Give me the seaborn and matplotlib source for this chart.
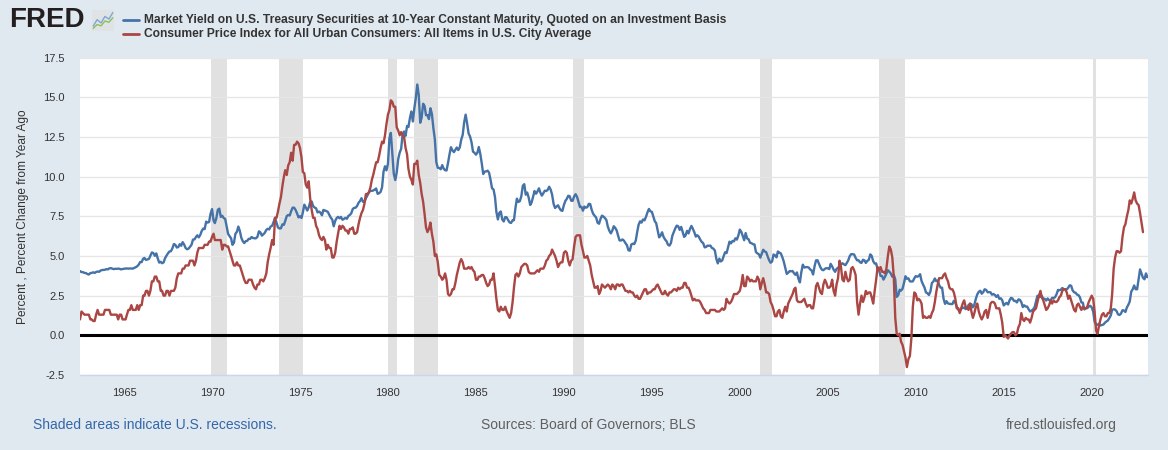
import numpy as np
import pandas as pd
import matplotlib
matplotlib.use("Agg")
import matplotlib.pyplot as plt
import seaborn as sns

# ---------------- data (monthly) ----------------
start_gs10 = "1962-07-01"
gs10 = [
    # 1962 Jul-Dec
    4.05, 3.98, 3.98, 3.93, 3.92, 3.86,
    3.83, 3.92, 3.93, 3.97, 3.93, 3.99, 4.02, 4.00, 4.08, 4.11, 4.12, 4.13,
    4.17, 4.15, 4.22, 4.23, 4.20, 4.17, 4.19, 4.19, 4.20, 4.19, 4.15, 4.18,
    4.19, 4.21, 4.21, 4.20, 4.21, 4.21, 4.20, 4.25, 4.29, 4.35, 4.45, 4.62,
    4.61, 4.83, 4.87, 4.75, 4.78, 4.81, 5.02, 5.22, 5.18, 5.01, 5.16, 4.84,
    4.58, 4.63, 4.54, 4.59, 4.85, 5.02, 5.16, 5.28, 5.30, 5.48, 5.75, 5.70,
    5.53, 5.56, 5.74, 5.64, 5.87, 5.72, 5.50, 5.42, 5.46, 5.58, 5.70, 6.03,
    6.04, 6.19, 6.30, 6.17, 6.32, 6.57, 6.72, 6.69, 7.16, 7.10, 7.14, 7.65,
    7.95, 7.24, 7.07, 7.39, 7.91, 7.98, 7.46, 7.53, 7.39, 7.33, 6.84, 6.39,
    6.24, 6.11, 5.70, 5.83, 6.39, 6.52, 6.85, 6.58, 6.14, 5.93, 5.81, 5.93,
    5.95, 6.08, 6.07, 6.19, 6.13, 6.11, 6.11, 6.21, 6.55, 6.48, 6.28, 6.36,
    6.46, 6.64, 6.71, 6.67, 6.85, 6.90, 7.13, 7.40, 7.09, 6.79, 6.73, 6.74,
    6.99, 6.96, 7.21, 7.51, 7.58, 7.54, 7.81, 8.04, 8.04, 7.90, 7.68, 7.43,
    7.50, 7.39, 7.73, 8.23, 8.06, 7.86, 8.06, 8.40, 8.43, 8.14, 8.05, 8.00,
    7.74, 7.79, 7.73, 7.56, 7.90, 7.86, 7.83, 7.77, 7.59, 7.41, 7.29, 6.87,
    7.21, 7.39, 7.46, 7.37, 7.46, 7.28, 7.33, 7.40, 7.34, 7.52, 7.58, 7.69,
    7.96, 8.03, 8.04, 8.15, 8.35, 8.46, 8.64, 8.41, 8.42, 8.64, 8.81, 9.01,
    9.10, 9.10, 9.12, 9.18, 9.25, 8.91, 8.95, 9.03, 9.33, 10.30, 10.65, 10.39,
    10.80, 12.41, 12.75, 11.47, 10.18, 9.78, 10.25, 11.10, 11.51, 11.75, 12.68, 12.84,
    12.57, 13.19, 13.12, 13.68, 14.10, 13.47, 14.28, 14.94, 15.80, 15.15, 13.39, 13.72,
    14.59, 14.43, 13.86, 13.87, 13.62, 14.30, 13.95, 13.06, 12.34, 10.91, 10.55, 10.54,
    10.46, 10.72, 10.51, 10.40, 10.38, 10.85, 11.38, 11.85, 11.65, 11.54, 11.69, 11.83,
    11.67, 11.84, 12.32, 12.63, 13.41, 13.90, 13.36, 12.72, 12.52, 12.16, 11.57, 11.50,
    11.38, 11.51, 11.86, 11.43, 10.85, 10.16, 10.31, 10.33, 10.37, 10.24, 9.78, 9.26,
    9.19, 8.70, 7.78, 7.30, 7.71, 7.80, 7.30, 7.17, 7.45, 7.43, 7.25, 7.11,
    7.08, 7.25, 7.25, 8.02, 8.61, 8.40, 8.45, 8.76, 9.42, 9.52, 8.86, 8.99,
    8.67, 8.21, 8.37, 8.72, 9.09, 8.92, 9.06, 9.26, 8.98, 8.80, 8.96, 9.11,
    9.09, 9.17, 9.36, 9.18, 8.86, 8.28, 8.02, 8.11, 8.19, 8.01, 7.87, 7.84,
    8.21, 8.47, 8.59, 8.79, 8.76, 8.48, 8.47, 8.75, 8.89, 8.72, 8.39, 8.08,
    8.09, 7.85, 8.11, 8.04, 8.07, 8.28, 8.27, 7.90, 7.65, 7.53, 7.42, 7.09,
    7.03, 7.34, 7.54, 7.48, 7.39, 7.26, 6.84, 6.59, 6.42, 6.59, 6.87, 6.77,
    6.60, 6.26, 5.98, 5.97, 6.04, 5.96, 5.81, 5.68, 5.36, 5.33, 5.72, 5.77,
    5.75, 5.97, 6.48, 6.97, 7.18, 7.10, 7.30, 7.24, 7.46, 7.74, 7.96, 7.81,
    7.78, 7.47, 7.20, 7.06, 6.63, 6.17, 6.28, 6.49, 6.20, 6.04, 5.93, 5.71,
    5.65, 5.81, 6.27, 6.51, 6.74, 6.91, 6.87, 6.64, 6.83, 6.53, 6.20, 6.30,
    6.58, 6.42, 6.69, 6.89, 6.71, 6.49, 6.22, 6.30, 6.21, 6.03, 5.88, 5.81,
    5.54, 5.57, 5.65, 5.64, 5.65, 5.50, 5.46, 5.34, 4.81, 4.53, 4.83, 4.65,
    4.72, 5.00, 5.23, 5.18, 5.54, 5.90, 5.79, 5.94, 5.92, 6.11, 6.03, 6.28,
    6.66, 6.52, 6.26, 5.99, 6.44, 6.10, 6.05, 5.83, 5.80, 5.74, 5.72, 5.24,
    5.16, 5.10, 4.89, 5.14, 5.39, 5.28, 5.24, 4.97, 4.73, 4.57, 4.65, 5.09,
    5.04, 4.91, 5.28, 5.21, 5.16, 4.93, 4.65, 4.26, 3.87, 3.94, 4.05, 4.03,
    4.05, 3.90, 3.81, 3.96, 3.57, 3.33, 3.98, 4.45, 4.27, 4.29, 4.30, 4.27,
    4.15, 4.08, 3.83, 4.35, 4.72, 4.73, 4.50, 4.28, 4.13, 4.10, 4.19, 4.23,
    4.22, 4.17, 4.50, 4.34, 4.14, 4.00, 4.18, 4.26, 4.20, 4.46, 4.54, 4.47,
    4.42, 4.57, 4.72, 4.99, 5.11, 5.11, 5.09, 4.88, 4.72, 4.73, 4.60, 4.56,
    4.76, 4.72, 4.56, 4.69, 4.75, 5.10, 5.00, 4.67, 4.52, 4.53, 4.15, 4.10,
    3.74, 3.74, 3.51, 3.68, 3.88, 4.10, 4.01, 3.89, 3.69, 3.81, 3.53, 2.42,
    2.52, 2.87, 2.82, 2.93, 3.29, 3.72, 3.56, 3.59, 3.40, 3.39, 3.40, 3.59,
    3.73, 3.69, 3.73, 3.85, 3.42, 3.20, 3.01, 2.70, 2.65, 2.54, 2.76, 3.29,
    3.39, 3.58, 3.41, 3.46, 3.17, 3.00, 3.00, 2.30, 1.98, 2.15, 2.01, 1.98,
    1.97, 1.97, 2.17, 2.05, 1.80, 1.62, 1.53, 1.68, 1.72, 1.75, 1.65, 1.72,
    1.91, 1.98, 1.96, 1.76, 1.93, 2.30, 2.58, 2.74, 2.81, 2.62, 2.72, 2.90,
    2.86, 2.71, 2.72, 2.71, 2.56, 2.60, 2.54, 2.42, 2.53, 2.30, 2.33, 2.21,
    1.88, 1.98, 2.04, 1.94, 2.20, 2.36, 2.32, 2.17, 2.17, 2.07, 2.26, 2.24,
    2.09, 1.78, 1.89, 1.81, 1.81, 1.64, 1.50, 1.56, 1.63, 1.76, 2.14, 2.49,
    2.43, 2.42, 2.48, 2.30, 2.30, 2.19, 2.32, 2.21, 2.20, 2.36, 2.35, 2.40,
    2.58, 2.86, 2.84, 2.87, 2.98, 2.91, 2.89, 2.89, 3.00, 3.15, 3.12, 2.83,
    2.71, 2.68, 2.57, 2.53, 2.40, 2.07, 2.06, 1.63, 1.70, 1.71, 1.81, 1.86,
    1.76, 1.50, 0.87, 0.66, 0.67, 0.73, 0.62, 0.65, 0.68, 0.79, 0.87, 0.93,
    1.08, 1.26, 1.61, 1.64, 1.62, 1.52, 1.32, 1.28, 1.37, 1.58, 1.56, 1.47,
    1.76, 1.93, 2.13, 2.75, 2.90, 3.14, 2.90, 2.90, 3.52, 4.15, 3.89, 3.62,
    3.53, 3.90, 3.66,
]

start_cpi = "1962-07-01"
cpi_yoy = [
    1.0, 1.5, 1.4, 1.3, 1.3, 1.3,
    1.3, 1.0, 1.0, 0.9, 0.9, 1.3, 1.6, 1.3, 1.3, 1.3, 1.3, 1.6,
    1.6, 1.6, 1.6, 1.3, 1.3, 1.3, 1.3, 1.3, 1.0, 1.3, 1.3, 1.0,
    1.0, 1.0, 1.3, 1.6, 1.6, 1.9, 1.6, 1.6, 1.6, 1.9, 1.6, 1.9,
    1.9, 2.5, 2.5, 2.8, 2.8, 2.5, 2.8, 3.4, 3.4, 3.7, 3.7, 3.4,
    3.4, 2.8, 2.8, 2.5, 2.5, 2.8, 2.8, 2.5, 2.8, 2.8, 2.8, 3.0,
    3.6, 3.9, 3.9, 3.9, 4.2, 4.2, 4.4, 4.4, 4.4, 4.7, 4.7, 4.7,
    4.4, 4.7, 5.2, 5.5, 5.5, 5.5, 5.5, 5.7, 5.7, 5.7, 5.9, 5.9,
    6.2, 6.4, 6.0, 6.0, 6.0, 6.0, 6.0, 5.4, 5.7, 5.7, 5.6, 5.6,
    5.3, 5.0, 4.7, 4.4, 4.4, 4.6, 4.4, 4.4, 4.1, 3.8, 3.5, 3.3,
    3.3, 3.5, 3.5, 3.5, 3.2, 3.0, 2.9, 3.2, 3.2, 3.5, 3.5, 3.4,
    3.6, 3.9, 4.6, 5.1, 5.5, 6.0, 5.7, 7.4, 7.4, 7.8, 8.3, 8.7,
    9.4, 10.0, 10.4, 10.1, 10.7, 10.9, 11.5, 11.0, 12.0, 12.0, 12.2, 12.1,
    11.8, 11.2, 10.3, 10.2, 9.5, 9.3, 9.7, 8.6, 7.9, 7.4, 7.4, 6.9,
    6.7, 6.3, 6.1, 6.0, 6.2, 6.0, 5.4, 5.7, 5.5, 5.5, 4.9, 4.9,
    5.2, 5.9, 6.4, 6.9, 6.7, 6.9, 6.8, 6.6, 6.6, 6.4, 6.7, 6.7,
    6.8, 6.4, 6.4, 6.5, 7.0, 7.4, 7.7, 7.9, 8.3, 8.9, 8.9, 9.0,
    9.3, 9.8, 10.1, 10.5, 10.9, 10.9, 11.3, 11.8, 12.2, 12.1, 12.6, 13.3,
    13.9, 14.2, 14.8, 14.7, 14.4, 14.4, 13.1, 12.9, 12.6, 12.8, 12.6, 12.5,
    11.8, 11.4, 10.5, 10.0, 9.8, 9.5, 10.8, 10.8, 11.0, 10.1, 9.6, 8.9,
    8.4, 7.6, 6.8, 6.5, 6.7, 7.1, 6.4, 5.9, 5.0, 5.1, 4.6, 3.8,
    3.7, 3.5, 3.6, 3.9, 3.5, 2.6, 2.5, 2.6, 2.9, 2.9, 3.3, 3.8,
    4.2, 4.6, 4.8, 4.6, 4.2, 4.2, 4.2, 4.3, 4.2, 4.3, 4.1, 4.0,
    3.5, 3.5, 3.7, 3.7, 3.8, 3.8, 3.6, 3.3, 3.1, 3.2, 3.5, 3.5,
    3.9, 3.1, 2.3, 1.6, 1.5, 1.8, 1.6, 1.6, 1.8, 1.5, 1.3, 1.1,
    1.4, 2.1, 3.0, 3.8, 3.9, 3.7, 3.9, 4.3, 4.4, 4.5, 4.5, 4.4,
    4.0, 3.9, 3.9, 3.9, 3.9, 4.0, 4.1, 4.0, 4.2, 4.2, 4.2, 4.4,
    4.7, 4.8, 5.0, 5.1, 5.4, 5.2, 5.0, 4.7, 4.3, 4.5, 4.6, 4.6,
    5.2, 5.3, 5.2, 4.7, 4.4, 4.7, 4.8, 5.6, 6.2, 6.3, 6.3, 6.3,
    5.7, 5.3, 4.9, 4.9, 5.0, 4.7, 4.4, 3.8, 3.4, 3.0, 3.0, 3.1,
    2.6, 2.8, 3.2, 3.1, 3.0, 3.1, 3.2, 3.1, 2.9, 3.2, 3.1, 2.9,
    3.2, 3.2, 3.1, 3.2, 3.2, 3.0, 2.8, 2.8, 2.7, 2.8, 2.7, 2.7,
    2.5, 2.4, 2.5, 2.3, 2.3, 2.5, 2.7, 2.9, 2.9, 2.6, 2.7, 2.7,
    2.8, 2.9, 2.9, 3.1, 3.2, 3.0, 2.8, 2.6, 2.6, 2.8, 2.6, 2.5,
    2.7, 2.7, 2.8, 2.9, 2.9, 2.8, 3.0, 2.9, 3.0, 3.0, 3.3, 3.3,
    3.0, 3.0, 2.8, 2.5, 2.2, 2.3, 2.2, 2.2, 2.2, 2.1, 1.9, 1.7,
    1.6, 1.4, 1.4, 1.4, 1.6, 1.6, 1.6, 1.6, 1.5, 1.5, 1.5, 1.6,
    1.7, 1.6, 1.7, 2.3, 2.1, 2.0, 2.1, 2.3, 2.6, 2.6, 2.6, 2.7,
    2.8, 3.2, 3.8, 3.1, 3.1, 3.7, 3.6, 3.4, 3.5, 3.4, 3.4, 3.4,
    3.7, 3.5, 2.9, 3.3, 3.6, 3.2, 2.7, 2.7, 2.6, 2.1, 1.9, 1.6,
    1.2, 1.2, 1.5, 1.6, 1.2, 1.1, 1.5, 1.8, 1.5, 2.0, 2.2, 2.4,
    2.6, 2.9, 3.0, 2.2, 2.1, 2.1, 2.1, 2.2, 2.3, 2.0, 1.8, 1.9,
    1.9, 1.7, 1.7, 2.3, 3.1, 3.3, 3.0, 2.7, 2.6, 3.2, 3.5, 3.3,
    3.0, 3.0, 3.1, 3.5, 2.8, 2.5, 3.2, 3.6, 4.7, 4.3, 3.5, 3.4,
    4.0, 3.6, 3.4, 3.5, 4.2, 4.3, 4.1, 3.8, 2.1, 1.3, 2.0, 2.5,
    2.1, 2.4, 2.8, 2.6, 2.7, 2.7, 2.4, 2.0, 2.8, 3.5, 4.3, 4.1,
    4.3, 4.0, 4.0, 3.9, 4.2, 5.0, 5.6, 5.4, 4.9, 3.7, 1.1, 0.1,
    0.0, 0.1, -0.4, -0.6, -1.0, -1.4, -2.0, -1.5, -1.3, -0.2, 1.8, 2.7,
    2.6, 2.2, 2.3, 2.2, 2.0, 1.1, 1.2, 1.1, 1.1, 1.2, 1.1, 1.4,
    1.6, 2.1, 2.7, 3.2, 3.6, 3.6, 3.6, 3.8, 3.9, 3.6, 3.4, 3.0,
    2.9, 2.9, 2.7, 2.3, 1.7, 1.7, 1.4, 1.7, 2.0, 2.2, 1.8, 1.7,
    1.6, 2.0, 1.5, 1.1, 1.4, 1.8, 2.0, 1.5, 1.2, 1.0, 1.2, 1.5,
    1.6, 1.1, 1.5, 2.0, 2.1, 2.1, 2.0, 1.7, 1.7, 1.7, 1.3, 0.8,
    -0.1, 0.0, -0.1, -0.2, 0.0, 0.1, 0.2, 0.2, 0.0, 0.1, 0.5, 0.7,
    1.4, 1.0, 0.9, 1.1, 1.0, 1.0, 0.8, 1.1, 1.5, 1.6, 1.7, 2.1,
    2.5, 2.8, 2.4, 2.2, 1.9, 1.6, 1.7, 1.9, 2.2, 2.0, 2.2, 2.1,
    2.1, 2.2, 2.4, 2.5, 2.8, 2.9, 2.9, 2.7, 2.3, 2.5, 2.2, 1.9,
    1.6, 1.5, 1.9, 2.0, 1.8, 1.6, 1.8, 1.7, 1.7, 1.8, 2.1, 2.3,
    2.5, 2.3, 1.5, 0.3, 0.1, 0.6, 1.0, 1.3, 1.4, 1.2, 1.2, 1.4,
    1.4, 1.7, 2.6, 4.2, 4.9, 5.3, 5.3, 5.2, 5.3, 6.2, 6.8, 7.0,
    7.5, 7.9, 8.5, 8.3, 8.6, 9.0, 8.5, 8.3, 8.2, 7.7, 7.1, 6.5,
]

recession_starts = ["1969-12-01", "1973-11-01", "1980-01-01", "1981-07-01",
                    "1990-07-01", "2001-03-01", "2007-12-01", "2020-02-01"]
recession_ends = ["1970-11-01", "1975-03-01", "1980-07-01", "1982-11-01",
                  "1991-03-01", "2001-11-01", "2009-06-01", "2020-04-01"]

series_names = [
    "Market Yield on U.S. Treasury Securities at 10-Year Constant Maturity, Quoted on an Investment Basis",
    "Consumer Price Index for All Urban Consumers: All Items in U.S. City Average",
]
y_ticks = [-2.5, 0.0, 2.5, 5.0, 7.5, 10.0, 12.5, 15.0, 17.5]
x_tick_years = [1965, 1970, 1975, 1980, 1985, 1990, 1995, 2000, 2005, 2010, 2015, 2020]

# ---------------- build frame ----------------
df_g = pd.DataFrame({"date": pd.date_range(start_gs10, periods=len(gs10), freq="MS"),
                     "value": gs10, "series": series_names[0]})
df_c = pd.DataFrame({"date": pd.date_range(start_cpi, periods=len(cpi_yoy), freq="MS"),
                     "value": cpi_yoy, "series": series_names[1]})
df = pd.concat([df_g, df_c], ignore_index=True)

BG = "#e1e9f0"
BLUE = "#4572a7"
RED = "#aa4643"
FONT = ["Liberation Sans", "DejaVu Sans"]

sns.set_style("white")
plt.rcParams["font.family"] = FONT

fig = plt.figure(figsize=(11.68, 4.5), dpi=100, facecolor=BG)
W, H = 1168, 450
ax = fig.add_axes([80 / W, 1 - 375 / H, (1148 - 80) / W, (375 - 57.5) / H])
ax.set_facecolor("white")

# recessions
for s, e in zip(recession_starts, recession_ends):
    ax.axvspan(pd.Timestamp(s), pd.Timestamp(e), color="#e1e1e1", lw=0, zorder=0)

# grid
for yt in y_ticks:
    ax.axhline(yt, color="#e6e6e6", lw=1, zorder=0.5)
ax.axhline(0, color="black", lw=2.2, zorder=3)

sns.lineplot(data=df, x="date", y="value", hue="series",
             palette=[BLUE, RED], linewidth=1.7, legend=False, ax=ax, zorder=4)

ax.set_xlim(pd.Timestamp("1962-07-01"), pd.Timestamp("2023-03-15"))
ax.set_ylim(-2.5, 17.5)
ax.set_yticks(y_ticks)
ax.set_yticklabels([f"{v:.1f}" for v in y_ticks])
ax.set_xticks([pd.Timestamp(f"{y}-01-01") for y in x_tick_years])
ax.set_xticklabels([str(y) for y in x_tick_years])
ax.tick_params(axis="y", length=0, labelsize=8, labelcolor="#333333", pad=11)
ax.tick_params(axis="x", length=6, width=1, color="#ccd6eb", labelsize=8,
               labelcolor="#333333", pad=3, direction="out")
ax.grid(False)
for sp in ["top", "right", "left"]:
    ax.spines[sp].set_visible(False)
ax.spines["bottom"].set_color("#ccd6eb")
ax.spines["bottom"].set_linewidth(1)
ax.set_xlabel("")
ax.set_ylabel("Percent , Percent Change from Year Ago", fontsize=8.6, color="#333333",
              labelpad=10)

# header: FRED logo + legend
fig.text(9 / W, 1 - 20 / H, "FRED", fontsize=20, fontweight="heavy", color="#231f20",
         va="center", ha="left")
ia = fig.add_axes([92 / W, 1 - 31 / H, 22 / W, 21 / H])
ia.set_facecolor("#dfe3e6")
ia.set_xticks([]); ia.set_yticks([])
for sp in ia.spines.values():
    sp.set_visible(False)
ia.plot([0, 1, 2, 3, 4, 5], [1, 3, 2, 4, 3.2, 5.2], color="#7fa6d1", lw=1)
ia.plot([0, 1, 2, 3, 4, 5], [0.3, 1.5, 1.1, 2.6, 2.2, 3.6], color="#8fbf5a", lw=1)
ia.set_xlim(-0.3, 5.3); ia.set_ylim(-0.5, 6)

for i, (name, col) in enumerate(zip(series_names, [BLUE, RED])):
    yy = 1 - (19.8 + 14 * i) / H
    fig.add_artist(plt.Line2D([123 / W, 139 / W], [yy, yy], color=col, lw=2,
                              transform=fig.transFigure))
    fig.text(144 / W, yy, name, fontsize=8.65, fontweight="bold", color="#333333",
             va="center", ha="left")

# footer
fig.text(33 / W, 1 - 425 / H, "Shaded areas indicate U.S. recessions.", fontsize=10,
         color="#3366aa", va="center", ha="left")
fig.text(588 / W, 1 - 425 / H, "Sources: Board of Governors; BLS", fontsize=10,
         color="#5f5f5f", va="center", ha="center")
fig.text(1117 / W, 1 - 425 / H, "fred.stlouisfed.org", fontsize=10,
         color="#5f5f5f", va="center", ha="right")

fig.savefig("out.png", dpi=100, facecolor=BG)
